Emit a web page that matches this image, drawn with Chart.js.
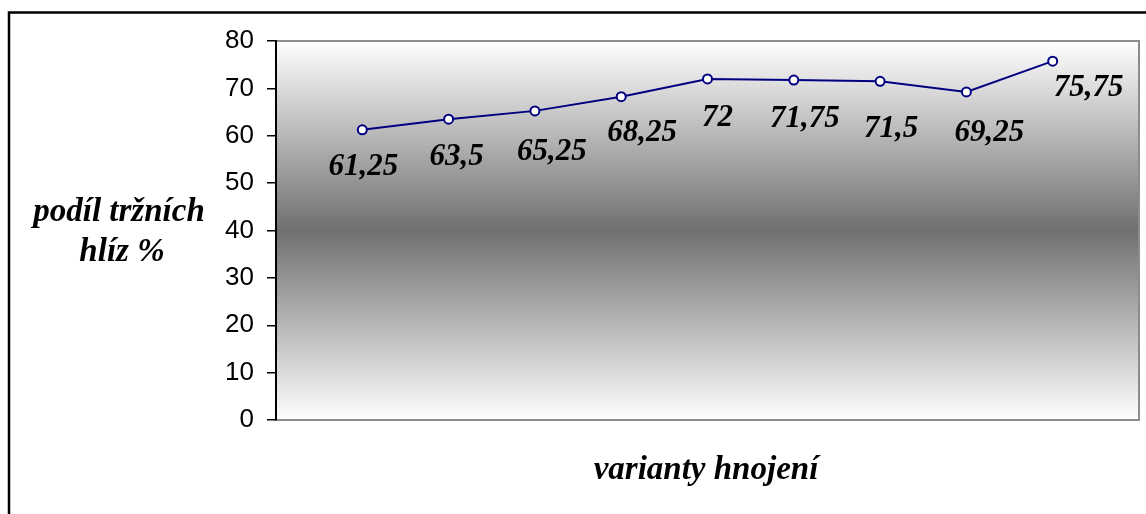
<!DOCTYPE html>
<html>
<head>
<meta charset="utf-8">
<script src="https://cdn.jsdelivr.net/npm/chart.js@4/dist/chart.umd.min.js"></script>
<style>
  html, body { margin: 0; padding: 0; background: #fff; }
  #wrap { width: 1146px; height: 514px; position: relative; }
</style>
</head>
<body>
<div id="wrap"><canvas id="c" width="1146" height="514"></canvas></div>
<script>
// Variants of fertilisation (positions 1..9 on the category axis)
const variants = [1, 2, 3, 4, 5, 6, 7, 8, 9];
// Share of marketable tubers, %
const share = [61.25, 63.5, 65.25, 68.25, 72, 71.75, 71.5, 69.25, 75.75];
// Value-axis tick labels
const yTicks = [0, 10, 20, 30, 40, 50, 60, 70, 80];

const yTitleLines = ['podíl tržních', 'hlíz %'];
const xTitle = 'varianty hnojení';

// Where each value label sits relative to its point (px)
const labelShift = [
  [1, 35], [8, 35], [17, 39], [21, 34], [10, 37],
  [11, 36], [11, 45], [23, 39], [36, 24]
];

const fmt = v => String(v).replace('.', ',');

const decor = {
  id: 'decor',
  beforeDraw(chart) {
    const { ctx, chartArea: a } = chart;
    ctx.save();
    // plot background: light at top and bottom, dark band in the middle
    const g = ctx.createLinearGradient(0, a.top, 0, a.bottom);
    g.addColorStop(0, '#ffffff');
    g.addColorStop(0.5, '#6f6f6f');
    g.addColorStop(1, '#ffffff');
    ctx.fillStyle = g;
    ctx.fillRect(a.left, a.top, a.right - a.left, a.bottom - a.top);
    ctx.strokeStyle = '#8c8c8c';
    ctx.lineWidth = 2;
    ctx.strokeRect(a.left, a.top, a.right - a.left, a.bottom - a.top);
    // outer frame
    ctx.strokeStyle = '#000';
    ctx.lineWidth = 2.5;
    ctx.strokeRect(9, 12.5, 1200, 600);
    ctx.restore();
  },
  afterDraw(chart) {
    const { ctx } = chart;
    const meta = chart.getDatasetMeta(0);
    ctx.save();
    ctx.fillStyle = '#000';
    ctx.textAlign = 'center';
    ctx.textBaseline = 'alphabetic';
    ctx.font = 'italic bold 31px "Liberation Serif", "Times New Roman", serif';
    meta.data.forEach((pt, i) => {
      const [dx, dy] = labelShift[i];
      ctx.fillText(fmt(share[i]), pt.x + dx, pt.y + dy + 10.5);
    });
    // axis titles
    ctx.font = 'italic bold 33px "Liberation Serif", "Times New Roman", serif';
    ctx.fillText(yTitleLines[0], 119, 221);
    ctx.fillText(yTitleLines[1], 122, 261);
    ctx.fillText(xTitle, 706, 479);
    ctx.restore();
  }
};

new Chart(document.getElementById('c'), {
  type: 'line',
  data: {
    datasets: [{
      data: variants.map((x, i) => ({ x, y: share[i] })),
      borderColor: '#000080',
      borderWidth: 2,
      pointRadius: 4.5,
      pointHoverRadius: 4.5,
      pointBackgroundColor: '#ffffff',
      pointBorderColor: '#000080',
      pointBorderWidth: 2,
      tension: 0
    }]
  },
  options: {
    responsive: false,
    animation: false,
    events: [],
    layout: { padding: { left: 10, top: 41, right: 7, bottom: 94 } },
    plugins: { legend: { display: false }, tooltip: { enabled: false }, title: { display: false } },
    scales: {
      x: { type: 'linear', min: 0, max: 10, display: false },
      y: {
        min: 0, max: 80,
        afterFit(s) { s.width = 266; },
        afterBuildTicks(s) { s.ticks = yTicks.map(v => ({ value: v })); },
        border: { display: true, color: '#000', width: 2 },
        grid: { drawOnChartArea: false, tickLength: 9, color: '#000', lineWidth: 1.5 },
        ticks: {
          padding: 13,
          color: '#000',
          font: { family: '"Liberation Sans", Arial, sans-serif', size: 26 }
        }
      }
    }
  },
  plugins: [decor]
});
</script>
</body>
</html>
